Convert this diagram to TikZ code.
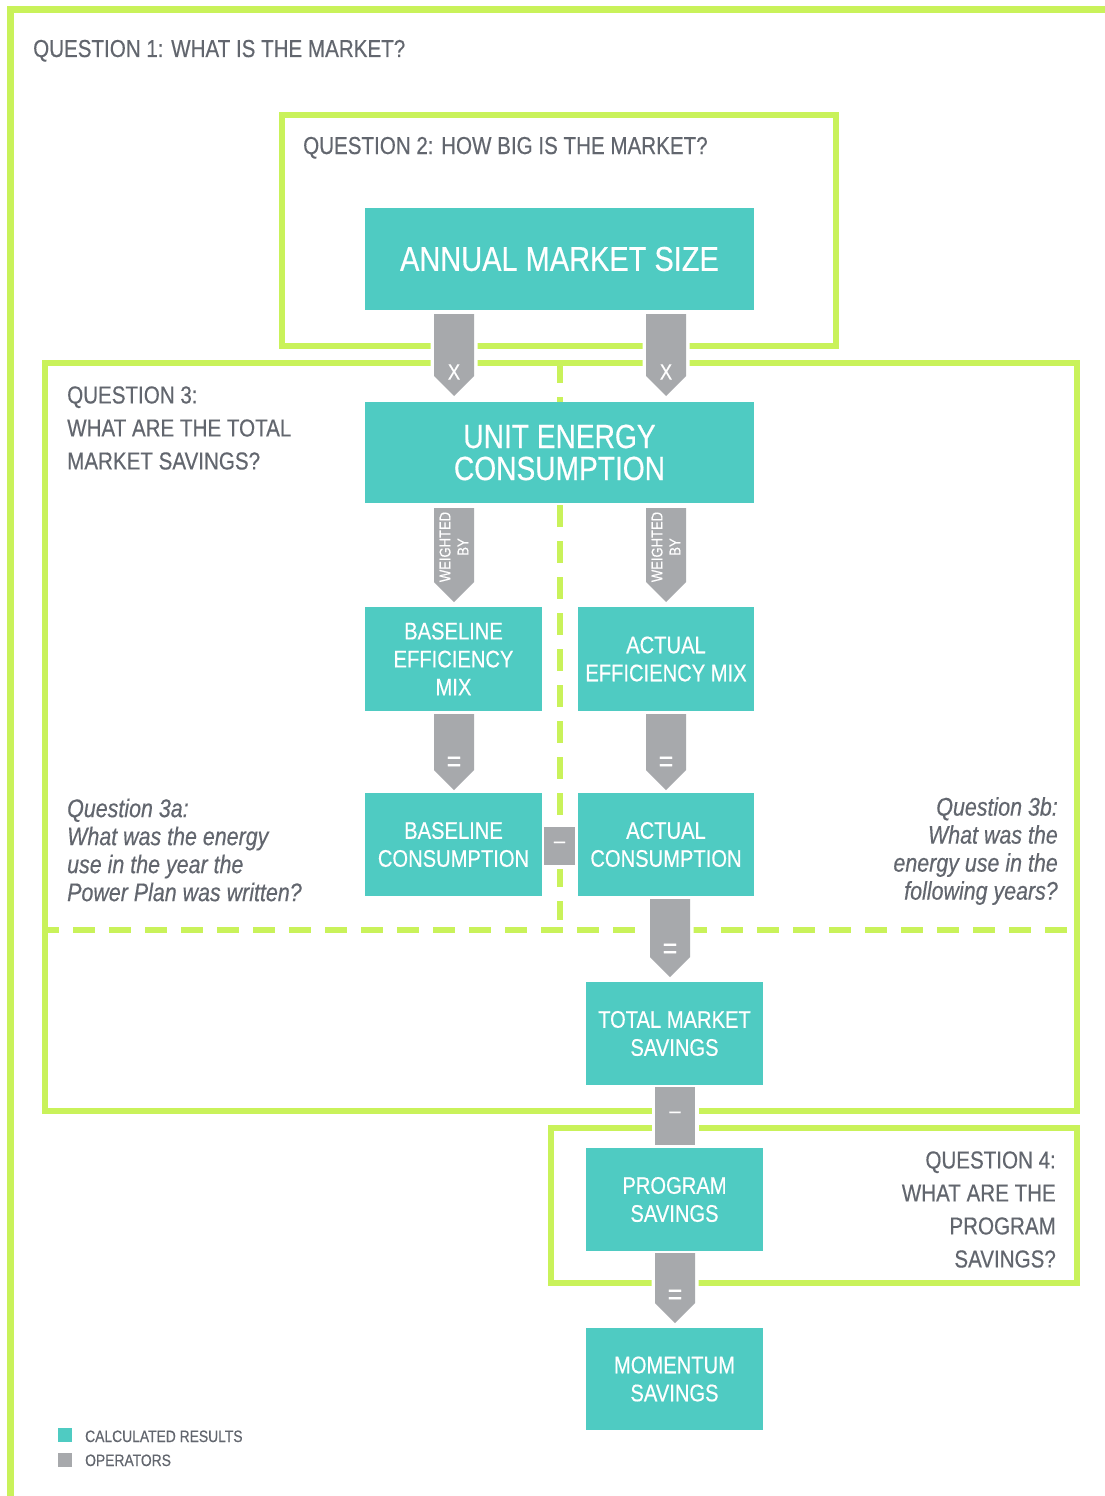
\documentclass[tikz,border=0pt]{standalone}
\usepackage{fontspec}
\setmainfont{Liberation Sans}[FakeStretch=0.84,FakeBold=0.4]
\definecolor{limeq}{RGB}{201,242,90}
\definecolor{tealq}{RGB}{79,203,194}
\definecolor{opgray}{RGB}{167,169,172}
\definecolor{txtgray}{RGB}{98,102,110}
\tikzset{
  frameline/.style={draw=limeq, line width=6pt},
  dashline/.style={draw=limeq, line width=6pt, dash pattern=on 22pt off 14pt},
  resbox/.style={fill=tealq, text=white, inner sep=0pt, align=center, font=\fontsize{24}{28}\selectfont},
  opshape/.style={fill=opgray, preaction={draw=white, line width=7pt}},
  optext/.style={text=white, inner sep=0pt, font=\fontsize{22}{22}\selectfont},
  qtext/.style={text=txtgray, inner sep=0pt, font=\fontsize{24.5}{33}\selectfont},
  qital/.style={text=txtgray, inner sep=0pt, font=\fontsize{25.5}{28}\selectfont\itshape},
  legsq/.style={minimum size=14pt, inner sep=0pt},
}
\newcommand{\opdown}[3]{%
  \path[opshape] (#1-20,#2) -- (#1+20,#2) -- (#1+20,#3-20) -- (#1,#3) -- (#1-20,#3-20) -- cycle;}
\begin{document}
\begin{tikzpicture}[x=1pt,y=-1pt]
\useasboundingbox (0,0) rectangle (1105,1496);
\fill[white] (0,0) rectangle (1105,1496);

% frames
\draw[frameline, line width=7pt] (10,1500) -- (10,10) -- (1110,10);
\draw[frameline] (282,115) rectangle (836,346);
\draw[frameline] (45,363) rectangle (1077,1111);
\draw[frameline] (551,1128) rectangle (1077,1283);
\draw[dashline, dash phase=8pt] (45,930) -- (1077,930);
\draw[dashline, dash phase=2pt] (560,363) -- (560,920);

% operators
\opdown{454}{314}{396}
\opdown{666}{314}{396}
\opdown{454}{508}{602}
\opdown{666}{508}{602}
\opdown{454}{714}{790}
\opdown{666}{714}{790}
\opdown{670}{899}{977}
\opdown{675}{1253}{1323}
\path[opshape] (544,827) rectangle (575,865);
\path[opshape] (655,1087) rectangle (695,1145);

\node[optext] (opx1) at (454,372) {X};
\node[optext] (opx2) at (666,372) {X};
\node[optext, font=\fontsize{15.5}{18}\selectfont, rotate=90, align=center] (opw1) at (454,547) {WEIGHTED\\BY};
\node[optext, font=\fontsize{15.5}{18}\selectfont, rotate=90, align=center] (opw2) at (666,547) {WEIGHTED\\BY};
\node[optext, font=\fontsize{30}{30}\selectfont] (ope1) at (454,764) {=};
\node[optext, font=\fontsize{30}{30}\selectfont] (ope2) at (666,764) {=};
\node[optext, font=\fontsize{30}{30}\selectfont] (ope3) at (670,951) {=};
\node[optext, font=\fontsize{30}{30}\selectfont] (ope4) at (675,1297) {=};
\node[optext, font=\fontsize{24}{24}\selectfont] (opm1) at (559.5,845) {–};
\node[optext, font=\fontsize{24}{24}\selectfont] (opm2) at (675,1115) {–};

% result boxes
\node[resbox, minimum width=389pt, minimum height=102pt, font=\fontsize{34.5}{34}\selectfont] (ams) at (559.5,259) {ANNUAL MARKET SIZE};
\node[resbox, minimum width=389pt, minimum height=101pt, font=\fontsize{33.5}{32}\selectfont] (uec) at (559.5,452.5) {UNIT ENERGY\\CONSUMPTION};
\node[resbox, minimum width=177pt, minimum height=104pt] (bem) at (453.5,659) {BASELINE\\EFFICIENCY\\MIX};
\node[resbox, minimum width=176pt, minimum height=104pt] (aem) at (666,659) {ACTUAL\\EFFICIENCY MIX};
\node[resbox, minimum width=177pt, minimum height=103pt] (bc) at (453.5,844.5) {BASELINE\\CONSUMPTION};
\node[resbox, minimum width=176pt, minimum height=103pt] (ac) at (666,844.5) {ACTUAL\\CONSUMPTION};
\node[resbox, minimum width=177pt, minimum height=103pt] (tms) at (674.5,1033.5) {TOTAL MARKET\\SAVINGS};
\node[resbox, minimum width=177pt, minimum height=103pt] (ps) at (674.5,1199.5) {PROGRAM\\SAVINGS};
\node[resbox, minimum width=177pt, minimum height=102pt] (ms) at (674.5,1379) {MOMENTUM\\SAVINGS};

% question texts
\node[qtext, anchor=base west] (q1) at (33,57) {QUESTION 1: WHAT IS THE MARKET?};
\node[qtext, anchor=base west] (q2) at (303,154) {QUESTION 2: HOW BIG IS THE MARKET?};
\node[qtext, anchor=west, align=left] (q3) at (67,428) {QUESTION 3:\\WHAT ARE THE TOTAL\\MARKET SAVINGS?};
\node[qtext, anchor=east, align=right] (q4) at (1056,1209.5) {QUESTION 4:\\WHAT ARE THE\\PROGRAM\\SAVINGS?};
\node[qital, anchor=west, align=left] (q3a) at (67,850) {Question 3a:\\What was the energy\\use in the year the\\Power Plan was written?};
\node[qital, anchor=east, align=right] (q3b) at (1058,851) {Question 3b:\\What was the\\energy use in the\\following years?};

% legend
\node[legsq, fill=tealq] (legt) at (65,1435) {};
\node[legsq, fill=opgray] (legg) at (65,1460) {};
\node[qtext, font=\fontsize{16.5}{16}\selectfont, anchor=base west] (legtt) at (85,1442) {CALCULATED RESULTS};
\node[qtext, font=\fontsize{16.5}{16}\selectfont, anchor=base west] (leggt) at (85,1466) {OPERATORS};
\end{tikzpicture}
\end{document}
